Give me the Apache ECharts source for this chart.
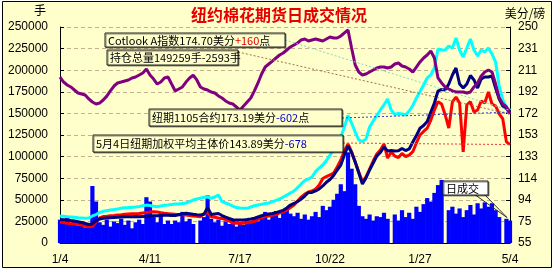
<!DOCTYPE html>
<html><head><meta charset="utf-8">
<script src="https://cdn.jsdelivr.net/npm/echarts@6/dist/echarts.min.js"></script>
<style>html,body{margin:0;padding:0;background:#fff}#c{width:555px;height:275px}</style>
</head><body><div id="c"></div>
<script>
// x tick labels (one every 25 trading points)
const xTickLabels = ['1/4','4/11','7/17','10/22','1/27','5/4'];

// daily volume (手), left axis
const volume = [
27000,24000,29000,22000,26000,20000,25000,18000,23000,66000,
48000,24000,21000,27000,19000,25000,23000,28000,21000,26000,
17000,24000,27000,22000,53000,48000,30000,24000,36000,22000,
26000,22000,26000,24000,36000,25000,28000,22000,0,26000,
30000,55000,28000,24000,27000,20000,25000,22000,27000,19000,
24000,21000,26000,23000,28000,25000,30000,36000,27000,33000,
37000,29000,36000,39000,34000,31000,35000,28000,33000,27000,
31000,36000,30000,43000,38000,42000,50000,57000,68000,60000,
105000,86000,68000,43000,31000,28000,33000,26000,31000,30000,
35000,28000,0,33000,26000,38000,30000,35000,28000,42000,
36000,45000,52000,48000,58000,67000,73000,0,38000,42000,
34000,40000,30000,38000,44000,33000,46000,40000,47000,42000,
46000,38000,30000,0,28000,26000];

// open interest 持仓总量 (手), left axis
const openInterest = [
192100,186300,182900,180600,177100,173600,172500,171300,166700,163200,
160900,162000,165500,170000,176000,181700,185200,186300,187500,188700,
191000,192100,194400,196800,201400,194400,189800,184000,186300,191000,
192100,184000,176000,178200,180600,186300,191000,194400,188700,180600,
178200,177100,174800,173600,170200,167800,164400,162000,160900,157400,
153900,158600,163200,167800,176000,185200,195600,203700,207200,210600,
214100,217600,219900,223400,226900,229200,231500,235000,236100,233800,
235000,236100,235000,233800,236100,238400,237300,237300,239600,243100,
246500,225700,206000,197900,194400,195600,197900,200200,202500,203700,
203700,202500,203700,207200,208300,204900,203700,201400,197900,203700,
209500,214100,217600,222200,214100,191000,185200,180600,178200,176000,
174800,174800,174800,173600,174800,180600,185200,193300,197900,200200,
197900,184000,167800,160900,157400,149259];

// Cotlook A index (美分/磅), right axis
const cotlookA = [
79.4,79.1,78.8,78.5,78.2,77.8,77.6,77.4,77.6,79.4,
80.7,82.5,83.6,84.2,84.8,85.2,85.7,86.3,86.9,87.0,
87.3,87.5,88.0,88.6,89.2,88.9,88.2,87.8,88.4,89.0,
89.3,89.8,90.2,90.2,90.7,91.1,92.4,93.8,94.7,95.4,
96.3,96.4,95.4,96.5,98.3,92.3,91.1,89.8,88.4,87.0,
86.6,86.4,86.3,87.5,88.6,89.3,89.9,90.6,91.1,92.4,
93.5,94.7,96.5,98.2,100.1,101.9,105.1,108.3,111.4,112.8,
114.6,119.6,122.7,125.4,129.5,134.4,139.0,143.5,150.7,159.7,
170.1,163.3,155.2,148.0,146.6,148.9,159.7,165.1,170.1,175.1,
179.6,185.0,175.1,171.0,171.9,171.5,170.6,174.2,179.1,185.9,
191.6,197.6,204.0,206.7,213.0,230.1,229.2,229.2,232.8,231.0,
240.1,229.2,222.9,231.0,239.2,229.2,223.8,229.2,227.4,231.0,
225.6,218.4,196.7,184.1,177.8,174.70];

// NY 1105 contract (美分/磅), right axis
const contract1105 = [
76.2,76.0,75.8,75.3,74.9,74.2,73.5,72.6,71.7,72.2,
74.9,76.7,77.4,77.6,77.8,78.0,78.2,78.5,78.8,78.8,
78.7,79.0,78.8,79.0,79.1,79.4,79.6,79.7,79.8,80.0,
80.0,79.8,79.8,80.5,81.2,81.8,81.4,80.9,80.5,80.3,
81.0,87.1,80.7,81.2,81.6,79.8,78.3,77.1,76.0,75.8,
75.8,75.8,76.2,76.7,77.4,78.5,79.6,80.5,81.2,81.6,
82.4,83.4,84.5,86.6,89.3,90.7,92.5,94.7,97.4,100.6,
100.6,102.0,103.8,106.5,109.8,112.3,115.9,120.9,125.4,134.4,
142.6,136.7,128.1,118.2,108.3,113.7,120.9,127.2,133.5,136.7,
141.7,138.1,138.5,138.1,138.2,140.3,138.5,139.9,146.2,152.0,
158.6,161.1,164.7,173.3,181.4,192.2,193.6,193.1,198.5,206.7,
213.0,198.5,194.9,198.5,206.2,202.2,194.9,203.1,204.9,204.9,
205.8,194.9,185.0,178.7,176.4,173.19];

// weighted average main price (美分/磅), right axis
const weightedAvg = [
74.0,73.5,72.9,72.5,72.2,71.9,71.3,70.3,69.6,69.9,
74.0,77.6,78.9,79.2,79.6,79.9,80.3,80.5,80.9,81.2,
81.4,81.5,81.7,82.1,82.5,83.0,83.1,83.0,82.3,81.8,
81.5,81.2,80.9,80.8,80.5,80.3,79.8,79.4,79.1,78.7,
81.6,82.5,78.7,78.2,77.6,77.1,76.2,74.9,73.1,72.8,
72.8,72.8,73.5,74.0,74.4,76.2,78.0,78.9,79.4,80.0,
80.7,82.1,83.0,84.8,87.0,89.3,92.9,96.5,99.2,101.0,
101.9,103.8,107.4,113.2,115.0,116.4,118.2,123.6,129.9,138.1,
144.4,137.2,128.1,119.1,110.5,114.6,121.8,129.0,135.3,139.0,
144.4,131.7,137.2,133.5,132.2,135.8,133.1,134.4,137.4,145.3,
152.5,155.7,158.6,166.0,175.1,182.6,180.5,170.6,158.8,182.3,
186.8,181.4,137.2,179.6,182.6,173.3,175.1,183.2,181.4,191.3,
180.5,178.7,171.5,167.0,146.3,143.89];

const categories = volume.map((_, i) => String(i));
const LAST = volume.length - 1;
const F = "'Noto Sans CJK SC', sans-serif";
const AF = "'Liberation Sans', sans-serif";

const chart = echarts.init(document.getElementById('c'), null, {renderer: 'canvas'});

const option = {
  animation: false,
  backgroundColor: '#ffffff',
  grid: {left: 60, right: 45, top: 27, bottom: 32, containLabel: false},
  xAxis: {
    type: 'category', data: categories, boundaryGap: false,
    axisLine: {lineStyle: {color: '#000', width: 1}},
    axisTick: {show: false},
    axisLabel: {interval: 0, margin: 11, color: '#000', fontSize: 12, fontFamily: AF,
      formatter: (v, i) => (i % 25 === 0 ? xTickLabels[i / 25] : '')},
    splitLine: {show: false}
  },
  yAxis: [
    {type: 'value', min: 0, max: 250000, interval: 25000, position: 'left',
     axisLine: {show: true, lineStyle: {color: '#000'}},
     axisTick: {show: true, inside: true, length: 4, lineStyle: {color: '#000'}},
     axisLabel: {margin: 12, color: '#000', fontSize: 12, fontFamily: AF,
       formatter: v => String(v)},
     splitLine: {show: true, lineStyle: {color: '#c2b28e', type: [4, 3], width: 1}}},
    {type: 'value', min: 55, max: 250, interval: 19.5, position: 'right',
     axisLine: {show: true, lineStyle: {color: '#000'}},
     axisTick: {show: true, inside: true, length: 4, lineStyle: {color: '#000'}},
     axisLabel: {margin: 8, color: '#000', fontSize: 12, fontFamily: AF,
       formatter: v => String(Math.round(v))},
     splitLine: {show: false}}
  ],
  series: [
    {name: '日成交', type: 'bar', data: volume, yAxisIndex: 0,
     barWidth: 4.2, itemStyle: {color: '#0000ff'}, z: 2},
    {name: 'Cotlook A', type: 'line', data: cotlookA, yAxisIndex: 1, symbol: 'none',
     lineStyle: {color: '#00ffff', width: 3}, z: 3},
    {name: '加权平均', type: 'line', data: weightedAvg, yAxisIndex: 1, symbol: 'none',
     lineStyle: {color: '#ff0000', width: 3}, z: 4},
    {name: '1105', type: 'line', data: contract1105, yAxisIndex: 1, symbol: 'none',
     lineStyle: {color: '#000080', width: 3}, z: 5},
    {name: '持仓总量', type: 'line', data: openInterest, yAxisIndex: 0, symbol: 'none',
     lineStyle: {color: '#800080', width: 3}, z: 6}
  ]
};
chart.setOption(option);

const px = (axis, val) => chart.convertToPixel({xAxisIndex: 0, yAxisIndex: axis}, [LAST, val]);
const pC = px(1, cotlookA[LAST]);
const pO = px(0, openInterest[LAST]);
const pN = px(1, contract1105[LAST]);
const pR = px(1, weightedAvg[LAST]);
const pV = px(0, volume[LAST]);

function box(x, y, w, h, text, rich, fill) {
  return [
    {type: 'rect', shape: {x: x, y: y, width: w, height: h}, z: 100,
     style: {fill: fill || '#ffffcc', stroke: '#222', lineWidth: 1,
             shadowColor: 'rgba(0,0,0,0.45)', shadowOffsetX: 1, shadowOffsetY: 1}},
    {type: 'text', x: x + 3, y: y + h / 2 + 0.5, z: 101,
     style: {text: text, verticalAlign: 'middle', rich: rich}}
  ];
}
const rk = {fill: '#000', fontSize: 11, fontFamily: F};
const rich = {k: rk, r: Object.assign({}, rk, {fill: '#e00000'}), b: Object.assign({}, rk, {fill: '#0000cc'})};

const graphics = [
  {type: 'rect', z: -100, shape: {x: 2.5, y: 1.5, width: 549, height: 266},
   style: {fill: '#ffffcc', stroke: '#000', lineWidth: 1}},
  {type: 'text', x: 279, y: 15, z: 100,
   style: {text: '纽约棉花期货日成交情况', fill: '#e60000', font: "bold 16px 'Noto Sans CJK SC'",
           align: 'center', verticalAlign: 'middle'}},
  {type: 'text', x: 40, y: 10, z: 100,
   style: {text: '手', fill: '#000', font: "12px 'Noto Sans CJK SC'", align: 'center', verticalAlign: 'middle'}},
  {type: 'text', x: 525, y: 13, z: 100,
   style: {text: '美分/磅', fill: '#000', font: "12px 'Noto Sans CJK SC'", align: 'center', verticalAlign: 'middle'}},
  // leader lines
  {type: 'line', z: 90, shape: {x1: 285, y1: 40, x2: pC[0], y2: pC[1]},
   style: {stroke: '#80d8cc', lineWidth: 1, lineDash: [2, 2]}},
  {type: 'line', z: 90, shape: {x1: 238, y1: 52, x2: pO[0], y2: pO[1]},
   style: {stroke: '#a0704a', lineWidth: 1, lineDash: [2, 2]}},
  {type: 'line', z: 90, shape: {x1: 342, y1: 118, x2: pN[0], y2: pN[1]},
   style: {stroke: '#3a3acc', lineWidth: 1, lineDash: [2, 2]}},
  {type: 'line', z: 90, shape: {x1: 343, y1: 143, x2: pR[0], y2: pR[1]},
   style: {stroke: '#ff3030', lineWidth: 1, lineDash: [2, 2]}},
  {type: 'polyline', z: 99, shape: {points: [[474, 194], [pV[0] - 3, pV[1] - 3], [484, 194]]},
   style: {stroke: '#333', lineWidth: 1, fill: null}}
]
.concat(box(105, 33, 180, 14, '{k|Cotlook A指数174.70美分}{r|+160}{k|点}', rich))
.concat(box(107, 50, 131, 15, '{k|持仓总量149259手-2593手}', rich))
.concat(box(149, 109, 193, 17, '{k|纽期1105合约173.19美分}{b|-602}{k|点}', rich))
.concat(box(93, 135, 250, 17, '{k|5月4日纽期加权平均主体价143.89美分}{b|-678}', rich))
.concat(box(443, 181, 45, 14, '{k|日成交}', rich, '#ffffff'));

chart.setOption({graphic: graphics});
</script>
</body></html>
